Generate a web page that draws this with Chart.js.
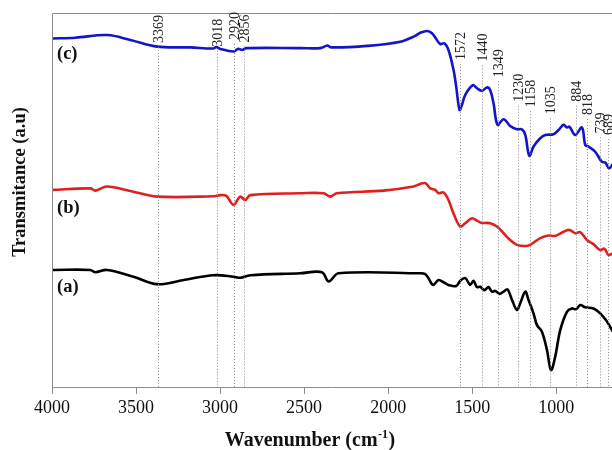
<!DOCTYPE html>
<html>
<head>
<meta charset="utf-8">
<script src="https://cdn.jsdelivr.net/npm/chart.js@4"></script>
<style>
  html, body { margin: 0; padding: 0; background: #fff; }
  #wrap { width: 612px; height: 450px; }
</style>
</head>
<body>
<div id="wrap"><canvas id="ftir" width="612" height="450"></canvas></div>
<script>
// FTIR spectra: wavenumber (cm-1) and transmittance (a.u.)
const seriesNames = ['(a)', '(b)', '(c)'];

const blackWn = [4000,3772,3742,3673,3515,3375,3217,3039,2920,2880,2820,2523,2394,2354,2295,1809,1779,1760,1733,1700,1670,1641,1595,1571,1541,1512,1492,1472,1452,1428,1403,1382,1363,1337,1313,1290,1263,1234,1214,1184,1165,1135,1115,1085,1055,1031,1006,976,936,907,881,857,827,778,738,698,667];
const blackT  = [31.3,31.3,30.7,31.3,29.5,27.5,28.6,29.9,29.5,29.2,29.9,30.4,30.7,28.2,30.4,30.4,30.2,29.1,27.3,28.6,28.0,27.3,27.0,28.4,29.1,27.3,28.4,26.7,26.8,25.9,26.7,25.5,25.7,24.9,25.5,26.1,23.3,20.6,22.4,25.5,23.3,19.7,16.6,14.8,9.9,4.5,8.1,15.2,20.1,21.0,20.8,21.9,21.3,21.0,19.7,17.5,15.1];

const redWn = [4000,3772,3742,3673,3534,3375,3040,2999,2963,2920,2880,2850,2820,2523,2384,2344,2305,2027,1849,1809,1779,1749,1720,1700,1670,1641,1611,1571,1541,1501,1472,1446,1393,1353,1313,1274,1234,1184,1155,1095,1046,1006,956,921,887,857,817,778,738,714,689,667];
const redT  = [52.7,53.1,52.5,53.6,52.4,50.9,51.0,51.3,51.1,48.7,50.9,50.0,51.3,51.8,51.8,50.9,51.8,52.5,53.6,54.3,54.5,53.1,52.7,51.8,52.0,50.0,46.4,42.9,43.8,45.1,44.5,43.9,43.8,42.9,41.1,39.3,38.0,37.7,38.0,39.8,40.5,40.4,41.5,42.0,41.1,41.4,39.3,38.2,36.6,37.0,35.3,35.6];

const blueWn = [4000,3861,3671,3534,3374,3177,3040,3023,2999,2921,2892,2868,2844,2523,2404,2362,2338,2124,1928,1839,1809,1769,1739,1710,1690,1666,1641,1611,1595,1575,1561,1541,1496,1472,1442,1412,1393,1373,1349,1313,1274,1234,1204,1184,1160,1135,1095,1065,1016,986,956,936,921,887,847,827,808,768,728,708,685,663];
const blueT  = [93.2,93.4,94.1,92.8,91.0,90.8,90.5,90.9,90.4,89.7,90.4,90.1,90.6,90.6,90.6,91.3,90.8,91.2,92.3,93.9,94.7,95.2,94.6,92.8,91.7,91.9,90.1,84.8,80.3,74.1,75.4,78.1,80.7,79.9,79.2,80.1,79.4,75.9,70.1,71.6,69.8,68.9,68.9,67.4,61.8,64.3,66.5,67.4,67.6,68.7,70.1,69.4,69.6,67.4,69.4,64.7,64.3,62.9,60.2,60.0,58.5,59.6];

// marked band positions and the height at which each band label sits
const peakWn = [3369,3018,2920,2856,1572,1440,1349,1230,1158,1035,884,818,739,689];
const peakLabelLevels = [92.0,91.0,92.8,92.1,87.4,87.0,82.8,76.3,74.8,72.9,76.3,72.7,67.8,67.4];

// series tag heights, in transmittance units
const tagLevels = [26.6, 47.9, 89.0];

const xTicks = [4000,3500,3000,2500,2000,1500,1000];
const xMin = 668, xMax = 4000;

const SERIF = '"Liberation Serif", "Times New Roman", serif';

function pairs(xs, ys) { return xs.map((x, i) => ({ x: x, y: ys[i] })); }

const decorations = {
  id: 'decorations',
  afterDatasetsDraw(chart) {
    const { ctx, chartArea: ca, scales: { x, y } } = chart;
    ctx.save();

    // frame: left and top edges
    ctx.strokeStyle = '#8c8c8c';
    ctx.lineWidth = 1;
    ctx.beginPath();
    ctx.moveTo(ca.left + 0.5, ca.bottom);
    ctx.lineTo(ca.left + 0.5, ca.top + 0.5);
    ctx.lineTo(ca.right, ca.top + 0.5);
    ctx.stroke();

    // band markers: dotted drop lines with rotated labels
    ctx.font = '14px ' + SERIF;
    ctx.fillStyle = '#222';
    peakWn.forEach((wn, i) => {
      const px = Math.round(x.getPixelForValue(wn)) + 0.5;
      const py = y.getPixelForValue(peakLabelLevels[i]);
      ctx.strokeStyle = '#8a8a8a';
      ctx.lineWidth = 1;
      ctx.setLineDash([1, 2]);
      ctx.beginPath();
      ctx.moveTo(px, py + 4);
      ctx.lineTo(px, ca.bottom);
      ctx.stroke();
      ctx.setLineDash([]);
      ctx.save();
      ctx.translate(px + 1, py);
      ctx.rotate(-Math.PI / 2);
      ctx.textAlign = 'left';
      ctx.textBaseline = 'middle';
      ctx.fillText(String(wn), 0, 0);
      ctx.restore();
    });

    // series tags
    ctx.font = 'bold 18.5px ' + SERIF;
    ctx.fillStyle = '#111';
    ctx.textAlign = 'left';
    ctx.textBaseline = 'middle';
    seriesNames.forEach((name, i) => {
      ctx.fillText(name, ca.left + 5, y.getPixelForValue(tagLevels[i]));
    });

    // y-axis title
    ctx.save();
    ctx.translate(20, 182);
    ctx.rotate(-Math.PI / 2);
    ctx.textAlign = 'center';
    ctx.textBaseline = 'middle';
    ctx.font = 'bold 18.5px ' + SERIF;
    ctx.fillText('Transmitance (a.u)', 0, 0);
    ctx.restore();

    // x-axis title with superscript
    const big = 'bold 20px ' + SERIF, small = 'bold 12px ' + SERIF;
    const partA = 'Wavenumber (cm', sup = '-1', partB = ')';
    ctx.font = big; const wA = ctx.measureText(partA).width, wB = ctx.measureText(partB).width;
    ctx.font = small; const wS = ctx.measureText(sup).width;
    let tx = 310 - (wA + wS + wB + 1) / 2;
    const base = 446;
    ctx.textAlign = 'left';
    ctx.textBaseline = 'alphabetic';
    ctx.font = big; ctx.fillText(partA, tx, base); tx += wA;
    ctx.font = small; ctx.fillText(sup, tx + 0.5, base - 8); tx += wS + 1;
    ctx.font = big; ctx.fillText(partB, tx, base);

    ctx.restore();
  }
};

new Chart(document.getElementById('ftir'), {
  type: 'line',
  data: {
    datasets: [
      { label: seriesNames[0], data: pairs(blackWn, blackT), borderColor: '#000000', borderWidth: 2.6 },
      { label: seriesNames[1], data: pairs(redWn, redT), borderColor: '#e0201e', borderWidth: 2.6 },
      { label: seriesNames[2], data: pairs(blueWn, blueT), borderColor: '#1414c8', borderWidth: 2.6 }
    ]
  },
  options: {
    responsive: false,
    animation: false,
    devicePixelRatio: 1,
    layout: { padding: { top: 13, right: 0, bottom: 0, left: 0 } },
    elements: {
      point: { radius: 0, hoverRadius: 0 },
      line: { tension: 0.35, fill: false, borderCapStyle: 'round', borderJoinStyle: 'round' }
    },
    plugins: { legend: { display: false }, tooltip: { enabled: false } },
    scales: {
      x: {
        type: 'linear',
        reverse: true,
        min: xMin,
        max: xMax,
        afterBuildTicks(scale) { scale.ticks = xTicks.map(v => ({ value: v })); },
        afterFit(scale) { scale.height = 63; },
        ticks: {
          autoSkip: false,
          maxRotation: 0,
          padding: 3,
          color: '#111',
          font: { family: SERIF, size: 18 },
          callback: v => String(v)
        },
        grid: { drawOnChartArea: false, drawTicks: true, tickLength: 7, color: '#8c8c8c' },
        border: { display: true, color: '#8c8c8c', width: 1 }
      },
      y: {
        min: 0,
        max: 100,
        afterFit(scale) { scale.width = 52; },
        ticks: { display: false },
        grid: { display: false },
        border: { display: false }
      }
    }
  },
  plugins: [decorations]
});
</script>
</body>
</html>
